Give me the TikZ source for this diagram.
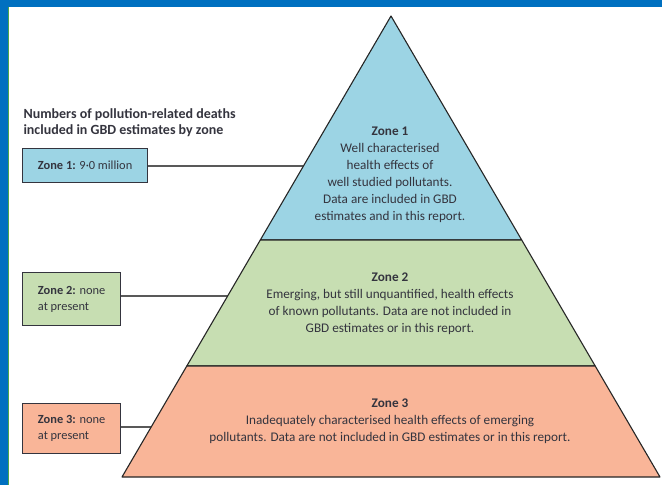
\documentclass[tikz,border=0pt]{standalone}
\usepackage{fontspec}
\setmainfont{Carlito}
\usepackage{tikz}
\usetikzlibrary{positioning}
\definecolor{lancetblue}{RGB}{0,112,192}
\definecolor{zoneone}{RGB}{156,212,228}
\definecolor{zonetwo}{RGB}{199,222,178}
\definecolor{zonethree}{RGB}{249,181,152}
\definecolor{inkgray}{RGB}{52,52,62}
\tikzstyle{zonebox} = [draw=inkgray, line width=1.2pt, align=left, anchor=north west, inner xsep=8pt, text=inkgray, font=\fontsize{12.4}{16}\selectfont]
\tikzstyle{layer} = [draw=black!85, line width=1.1pt, line join=round]
\tikzstyle{link} = [draw=black!65, line width=1.4pt]
\tikzstyle{zonetext} = [align=center, text=inkgray, font=\fontsize{13.2}{17}\selectfont]

\begin{document}
\begin{tikzpicture}[x=1pt, y=-1pt]
        \useasboundingbox (0,0) rectangle (662,485);
        \fill[white] (0,0) rectangle (662,485);
        \fill[lancetblue] (0,0) rectangle (662,7);
        \fill[lancetblue] (0,0) rectangle (8,485);
        \fill[green!50!black!70] (8,7) rectangle (9,485);

        % pyramid corners
        \coordinate (apex) at (391,16);
        \coordinate (l12) at (260.3,240);
        \coordinate (r12) at (521.7,240);
        \coordinate (l23) at (186.8,366);
        \coordinate (r23) at (595.2,366);
        \coordinate (bl) at (122,477);
        \coordinate (br) at (660,477);
        \coordinate (edge1) at (303.5,166);
        \coordinate (edge2) at (227.6,296);
        \coordinate (edge3) at (151.2,427);

        \node (title) [anchor=north west, align=left, text=inkgray, font=\bfseries\fontsize{14}{16}\selectfont] at (20,105) {Numbers of pollution-related deaths\\included in GBD estimates by zone};
        \node (box1) [zonebox, fill=zoneone, minimum width=125pt, minimum height=34pt] at (22,148) {\textbf{Zone 1:} 9·0 million};
        \node (box2) [zonebox, fill=zonetwo, minimum width=98pt, minimum height=53pt] at (22,272) {\textbf{Zone 2:} none\\at present};
        \node (box3) [zonebox, fill=zonethree, minimum width=98pt, minimum height=50pt] at (22,403) {\textbf{Zone 3:} none\\at present};

        \draw[link] (box1.east |- edge1) -- (edge1);
        \draw[link] (box2.east |- edge2) -- (edge2);
        \draw[link] (box3.east |- edge3) -- (edge3);

        \filldraw[layer, fill=zoneone] (apex) -- (r12) -- (l12) -- cycle;
        \filldraw[layer, fill=zonetwo] (l12) -- (r12) -- (r23) -- (l23) -- cycle;
        \filldraw[layer, fill=zonethree] (l23) -- (r23) -- (br) -- (bl) -- cycle;

        \node (zone1) [zonetext] at (390,174.5) {\textbf{Zone 1}\\Well characterised\\health effects of\\well studied pollutants.\\Data are included in GBD\\estimates and in this report.};
        \node (zone2) [zonetext] at (390,304) {\textbf{Zone 2}\\Emerging, but still unquantified, health effects\\of known pollutants. Data are not included in\\GBD estimates or in this report.};
        \node (zone3) [zonetext] at (390,421.5) {\textbf{Zone 3}\\Inadequately characterised health effects of emerging\\pollutants. Data are not included in GBD estimates or in this report.};
\end{tikzpicture}
\end{document}
